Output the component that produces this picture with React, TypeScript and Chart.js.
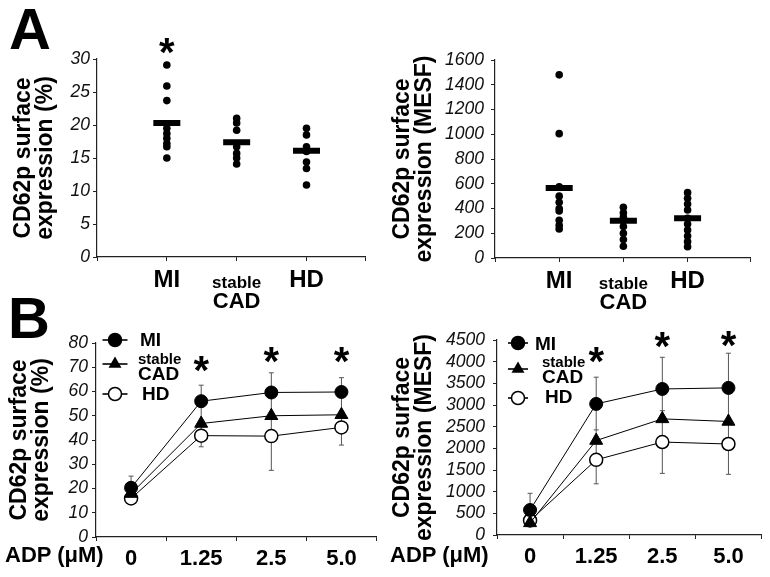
import React, { useEffect, useRef } from 'react';
import { Chart, registerables } from 'chart.js';

Chart.register(...registerables);

const FONT = "'Liberation Sans', Arial, Helvetica, sans-serif";

// ---------------- Panel A data ----------------
const groupsA = ['MI', 'stable CAD', 'HD'];
const pctMI = [29.1, 25.9, 23.7, 19.5, 18.7, 18.0, 17.2, 16.7, 15.0];
const pctStable = [21.0, 20.3, 19.2, 16.7, 15.7, 15.0, 14.1];
const pctHD = [19.5, 18.5, 16.7, 16.0, 14.4, 13.4, 10.9];
const pctMeans = [20.3, 17.4, 16.1];
const pctStars = [32.4, null, null];

const mesfMI = [1480, 1005, 575, 500, 450, 400, 380, 305, 265, 235];
const mesfStable = [410, 365, 330, 300, 255, 200, 150, 95];
const mesfHD = [528, 482, 436, 388, 320, 275, 226, 178, 132, 91];
const mesfMeans = [565, 302, 321];
const mesfStars = [null, null, null];

const titlePct = ['CD62p surface', 'expression (%)'];
const titleMesf = ['CD62p surface', 'expression (MESF)'];

// ---------------- Panel B data ----------------
const adpLabels = ['0', '1.25', '2.5', '5.0'];
const legendNames = ['MI', 'stable CAD', 'HD'];

const bPctMI = [20.3, 56.0, 59.6, 59.8];
const bPctStable = [17.9, 46.8, 50.0, 50.4];
const bPctHD = [15.9, 41.8, 41.6, 45.2];
const bPctErrMI = [4.8, 6.6, 8.1, 5.9];
const bPctErrStable = [0, 0, 0, 0];
const bPctErrHD = [0, 4.6, 14.1, 7.3];
const bPctStars = [null, 72.3, 76, 76];

const bMesfMI = [577, 3025, 3370, 3395];
const bMesfStable = [280, 2180, 2680, 2620];
const bMesfHD = [335, 1735, 2145, 2100];
const bMesfErrMI = [385, 617, 731, 800];
const bMesfErrStable = [0, 246, 190, 0];
const bMesfErrHD = [0, 554, 723, 700];
const bMesfStars = [null, 4200, 4547, 4570];

// ---------------- helpers ----------------
function drawStar(ctx: CanvasRenderingContext2D, x: number, y: number) {
  const size = 40;
  ctx.save();
  ctx.font = `bold ${size}px ${FONT}`;
  ctx.textAlign = 'center';
  ctx.textBaseline = 'alphabetic';
  ctx.fillStyle = '#000';
  ctx.fillText('*', x, y + 0.56 * size);
  ctx.restore();
}

const tickFont = { family: FONT, size: 17.5, style: 'italic' as const };
const titleFont = { family: FONT, size: 23, weight: 'bold' as const, lineHeight: 0.96 };
const AXIS = '#222';
const plain = (v: any) => String(v);

type Box = { yW: number; xH: number; top: number; right: number; titlePad: number; tickPad: number };

function buildA(
  canvas: HTMLCanvasElement,
  cfg: { groups: number[][]; means: number[]; stars: (number | null)[]; yMax: number; yStep: number; xMax: number; title: string[]; box: Box }
) {
  const { groups, means, stars, yMax, yStep, xMax, title, box } = cfg;
  const labelPlugin = {
    id: 'groupLabels',
    afterDraw(chart: any) {
      const { ctx, chartArea } = chart;
      const x = chart.scales.x;
      const y = chart.scales.y;
      ctx.save();
      ctx.fillStyle = '#000';
      ctx.textAlign = 'center';
      ctx.textBaseline = 'alphabetic';
      groupsA.forEach((g, i) => {
        const px = x.getPixelForValue(i + 1);
        const parts = g.split(' ');
        if (parts.length === 1) {
          ctx.font = `bold 24px ${FONT}`;
          ctx.fillText(g, px, chartArea.bottom + 30);
        } else {
          ctx.font = `bold 17px ${FONT}`;
          ctx.fillText(parts[0], px, chartArea.bottom + 31);
          ctx.font = `bold 22px ${FONT}`;
          ctx.fillText(parts[1], px, chartArea.bottom + 51);
        }
      });
      ctx.restore();
      stars.forEach((s, i) => {
        if (s != null) drawStar(ctx, x.getPixelForValue(i + 1), y.getPixelForValue(s));
      });
    },
  };
  return new Chart(canvas, {
    type: 'scatter',
    data: {
      datasets: [
        {
          data: means.map((m, i) => ({ x: i + 1, y: m })),
          pointStyle: 'line',
          pointRadius: 13.5,
          pointHoverRadius: 13.5,
          borderWidth: 6,
          borderColor: '#000',
          backgroundColor: '#000',
        } as any,
        ...groups.map((arr, i) => ({
          data: arr.map((v) => ({ x: i + 1, y: v })),
          pointRadius: 3.8,
          pointHoverRadius: 3.8,
          borderWidth: 0,
          backgroundColor: '#000',
          borderColor: '#000',
        })),
      ],
    },
    options: {
      animation: false,
      responsive: false,
      events: [],
      plugins: { legend: { display: false }, tooltip: { enabled: false } },
      layout: { padding: { left: 0, top: box.top, right: box.right, bottom: 0 } },
      scales: {
        x: {
          type: 'linear',
          min: 0,
          max: xMax,
          afterFit: (s: any) => { s.height = box.xH; },
          ticks: { display: false, stepSize: 1 },
          grid: { drawOnChartArea: false, drawTicks: true, tickLength: 4, color: AXIS },
          border: { display: true, color: AXIS, width: 1.2 },
        },
        y: {
          min: 0,
          max: yMax,
          afterFit: (s: any) => { s.width = box.yW; },
          ticks: { stepSize: yStep, autoSkip: false, font: tickFont, color: '#111', padding: box.tickPad, callback: plain },
          grid: { drawOnChartArea: false, drawTicks: true, tickLength: 4, color: AXIS },
          border: { display: true, color: AXIS, width: 1.2 },
          title: { display: true, text: title, font: titleFont, color: '#000', padding: { top: box.titlePad, bottom: 0 } },
        },
      } as any,
    },
    plugins: [labelPlugin],
  });
}

type Legend = { mx: number; half: number; rows: number[]; tx: number[]; base: number[] };

function buildB(
  canvas: HTMLCanvasElement,
  cfg: {
    mi: number[]; st: number[]; hd: number[];
    errMI: number[]; errSt: number[]; errHD: number[];
    stars: (number | null)[]; yMax: number; yStep: number; title: string[]; box: Box; legend: Legend;
  }
) {
  const { mi, st, hd, errMI, errSt, errHD, stars, yMax, yStep, title, box, legend } = cfg;
  const plugin = {
    id: 'errLegend',
    beforeDatasetsDraw(chart: any) {
      const { ctx } = chart;
      const x = chart.scales.x;
      const y = chart.scales.y;
      ctx.save();
      ctx.strokeStyle = '#555';
      ctx.lineWidth = 1;
      const cap = (px: number, py: number) => {
        ctx.beginPath();
        ctx.moveTo(px - 2.5, py);
        ctx.lineTo(px + 2.5, py);
        ctx.stroke();
      };
      adpLabels.forEach((_, i) => {
        const px = x.getPixelForValue(i);
        const top = y.getPixelForValue(mi[i] + errMI[i]);
        const bot = y.getPixelForValue(hd[i] - errHD[i]);
        ctx.beginPath();
        ctx.moveTo(px, top);
        ctx.lineTo(px, bot);
        ctx.stroke();
        cap(px, top);
        if (errHD[i] > 0) cap(px, bot);
        if (errSt[i] > 0) cap(px, y.getPixelForValue(st[i] + errSt[i]));
      });
      ctx.restore();
    },
    afterDraw(chart: any) {
      const { ctx, chartArea } = chart;
      const x = chart.scales.x;
      const y = chart.scales.y;
      stars.forEach((s, i) => {
        if (s != null) drawStar(ctx, x.getPixelForValue(i), y.getPixelForValue(s));
      });
      ctx.save();
      const L = chartArea.left;
      const T = chartArea.top;
      legendNames.forEach((name, i) => {
        const cy = T + legend.rows[i];
        const cx = L + legend.mx;
        ctx.strokeStyle = '#000';
        ctx.lineWidth = 1.6;
        ctx.beginPath();
        ctx.moveTo(cx - legend.half, cy);
        ctx.lineTo(cx + legend.half, cy);
        ctx.stroke();
        ctx.beginPath();
        if (i === 1) {
          const r = 7.5;
          for (let k = 0; k < 3; k++) {
            const a = (k * 2 * Math.PI) / 3;
            const px = cx + Math.sin(a) * r;
            const py = cy - Math.cos(a) * r;
            if (k === 0) ctx.moveTo(px, py); else ctx.lineTo(px, py);
          }
          ctx.closePath();
          ctx.fillStyle = '#000';
          ctx.fill();
        } else {
          ctx.arc(cx, cy, 6.5, 0, Math.PI * 2);
          ctx.fillStyle = i === 0 ? '#000' : '#fff';
          ctx.fill();
          ctx.lineWidth = 1.5;
          ctx.stroke();
        }
        ctx.fillStyle = '#000';
        ctx.textAlign = 'left';
        ctx.textBaseline = 'alphabetic';
        const parts = name.split(' ');
        if (parts.length === 1) {
          ctx.font = `bold 19px ${FONT}`;
          ctx.fillText(name, L + legend.tx[i], T + legend.base[i]);
        } else {
          ctx.font = `bold 15px ${FONT}`;
          ctx.fillText(parts[0], L + legend.tx[i], T + legend.base[i]);
          ctx.font = `bold 19px ${FONT}`;
          ctx.fillText(parts[1], L + legend.tx[i], T + legend.base[i] + 16);
        }
      });
      ctx.restore();
    },
  };
  const base = { borderColor: '#000', borderWidth: 1, tension: 0, fill: false, pointBorderColor: '#000' };
  return new Chart(canvas, {
    type: 'line',
    data: {
      labels: adpLabels,
      datasets: [
        { ...base, label: legendNames[0], data: mi, pointStyle: 'circle', pointRadius: 6.5, pointHoverRadius: 6.5, pointBackgroundColor: '#000', backgroundColor: '#000', pointBorderWidth: 1, order: 1 },
        { ...base, label: legendNames[1], data: st, pointStyle: 'triangle', pointRadius: 7.5, pointHoverRadius: 7.5, pointBackgroundColor: '#000', backgroundColor: '#000', pointBorderWidth: 1, order: 0 },
        { ...base, label: legendNames[2], data: hd, pointStyle: 'circle', pointRadius: 6.5, pointHoverRadius: 6.5, pointBackgroundColor: '#fff', backgroundColor: '#fff', pointBorderWidth: 1.5, order: 2 },
      ] as any,
    },
    options: {
      animation: false,
      responsive: false,
      events: [],
      plugins: { legend: { display: false }, tooltip: { enabled: false } },
      layout: { padding: { left: 0, top: box.top, right: box.right, bottom: 0 } },
      scales: {
        x: {
          type: 'category',
          offset: true,
          afterFit: (s: any) => { s.height = box.xH; },
          ticks: { font: { family: FONT, size: 22, weight: 'bold' }, color: '#000', padding: 5, maxRotation: 0 },
          grid: { offset: true, drawOnChartArea: false, drawTicks: true, tickLength: 4, color: AXIS },
          border: { display: true, color: AXIS, width: 1.2 },
        },
        y: {
          min: 0,
          max: yMax,
          afterFit: (s: any) => { s.width = box.yW; },
          ticks: { stepSize: yStep, autoSkip: false, font: tickFont, color: '#111', padding: box.tickPad, callback: plain },
          grid: { drawOnChartArea: false, drawTicks: true, tickLength: 4, color: AXIS },
          border: { display: true, color: AXIS, width: 1.2 },
          title: { display: true, text: title, font: titleFont, color: '#000', padding: { top: box.titlePad, bottom: 0 } },
        },
      } as any,
    },
    plugins: [plugin],
  });
}

function ChartCanvas(props: { left: number; top: number; w: number; h: number; build: (c: HTMLCanvasElement) => Chart }) {
  const ref = useRef<HTMLCanvasElement>(null);
  useEffect(() => {
    const chart = props.build(ref.current as HTMLCanvasElement);
    return () => chart.destroy();
  }, []);
  return (
    <canvas
      ref={ref}
      width={props.w}
      height={props.h}
      style={{ position: 'absolute', left: props.left, top: props.top, width: props.w, height: props.h }}
    />
  );
}

const big: React.CSSProperties = { position: 'absolute', fontSize: 58, fontWeight: 'bold', lineHeight: 1, fontFamily: FONT, color: '#000' };
const adp: React.CSSProperties = { position: 'absolute', fontSize: 22, fontWeight: 'bold', lineHeight: 1, fontFamily: FONT, color: '#000', whiteSpace: 'nowrap' };

export default function App() {
  return (
    <div style={{ position: 'absolute', left: 0, top: 0, width: 770, height: 577, background: '#fff', overflow: 'hidden' }}>
      <ChartCanvas
        left={0} top={0} w={385} h={315}
        build={(c) => buildA(c, {
          groups: [pctMI, pctStable, pctHD], means: pctMeans, stars: pctStars,
          yMax: 30, yStep: 5, xMax: 3.845, title: titlePct,
          box: { yW: 97, xH: 58, top: 59, right: 15, titlePad: 13, tickPad: 3 },
        })}
      />
      <ChartCanvas
        left={385} top={0} w={385} h={315}
        build={(c) => buildA(c, {
          groups: [mesfMI, mesfStable, mesfHD], means: mesfMeans, stars: mesfStars,
          yMax: 1600, yStep: 200, xMax: 3.98, title: titleMesf,
          box: { yW: 110, xH: 57, top: 60, right: 7, titlePad: 7, tickPad: 7 },
        })}
      />
      <ChartCanvas
        left={0} top={310} w={385} h={267}
        build={(c) => buildB(c, {
          mi: bPctMI, st: bPctStable, hd: bPctHD,
          errMI: bPctErrMI, errSt: bPctErrStable, errHD: bPctErrHD,
          stars: bPctStars, yMax: 80, yStep: 10, title: titlePct,
          box: { yW: 96, xH: 40, top: 33, right: 7, titlePad: 9, tickPad: 4 },
          legend: { mx: 19, half: 12.5, rows: [-3, 21, 51], tx: [44, 42, 46], base: [3, 21, 57] },
        })}
      />
      <ChartCanvas
        left={385} top={310} w={385} h={267}
        build={(c) => buildB(c, {
          mi: bMesfMI, st: bMesfStable, hd: bMesfHD,
          errMI: bMesfErrMI, errSt: bMesfErrStable, errHD: bMesfErrHD,
          stars: bMesfStars, yMax: 4500, yStep: 500, title: titleMesf,
          box: { yW: 112, xH: 42, top: 30, right: 2, titlePad: 7, tickPad: 8 },
          legend: { mx: 21, half: 10, rows: [3, 29, 58], tx: [38, 45, 48], base: [10, 27, 63] },
        })}
      />
      <div style={{ ...big, left: 9, top: 0 }}>A</div>
      <div style={{ ...big, left: 8, top: 289 }}>B</div>
      <div style={{ ...adp, left: 5, top: 544 }}>ADP (μM)</div>
      <div style={{ ...adp, left: 390, top: 544 }}>ADP (μM)</div>
    </div>
  );
}
